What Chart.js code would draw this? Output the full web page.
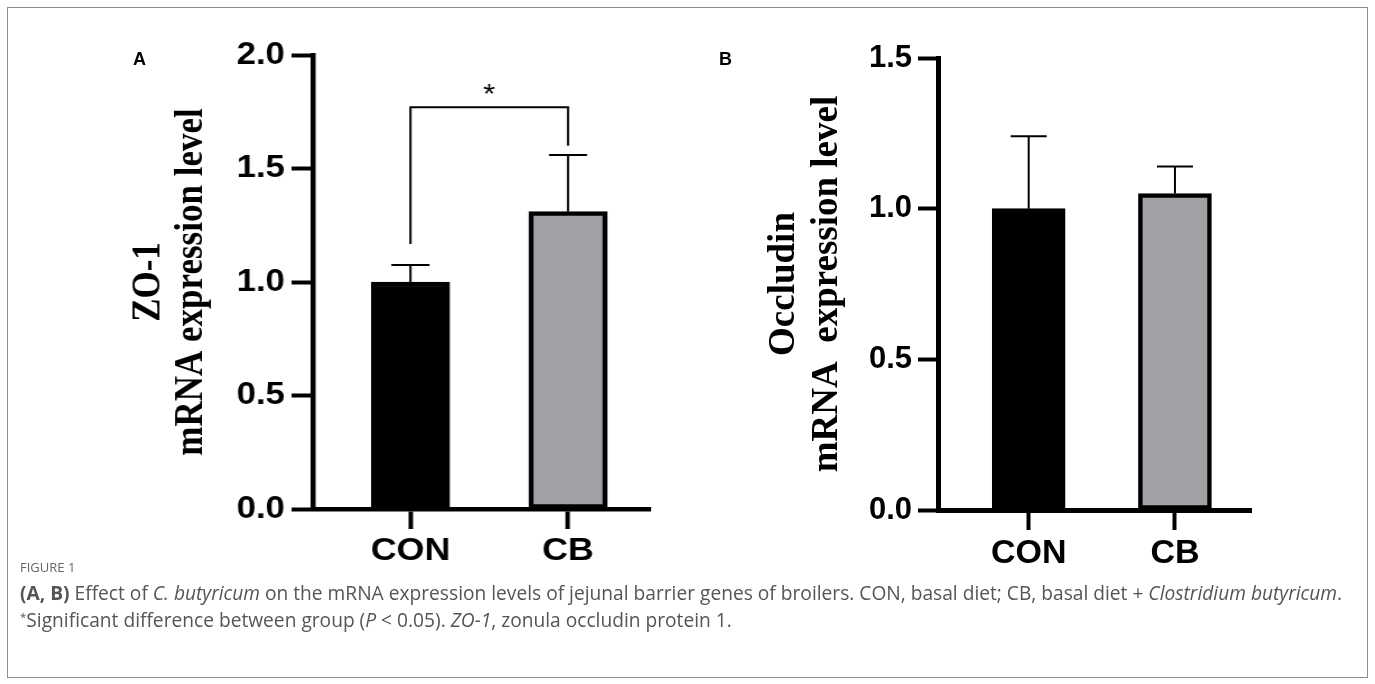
<!DOCTYPE html>
<html>
<head>
<meta charset="utf-8">
<script src="https://cdn.jsdelivr.net/npm/chart.js@4/dist/chart.umd.min.js"></script>
<style>
  html, body { margin:0; padding:0; background:#fff; }
  body { width:1375px; height:684px; position:relative; overflow:hidden; }
  #frame { position:absolute; left:7px; top:7px; width:1361px; height:671px; border:1.5px solid #8c8c8c; box-sizing:border-box; }
  .panel { position:absolute; top:0; }
  #wrapA { left:100px; width:500px; height:590px; transform:scaleX(1.12); transform-origin:0 0; }
  #wrapB { left:700px; width:560px; height:590px; }
  .letter { position:absolute; font-family:"Liberation Sans", Arial, sans-serif; font-weight:bold; font-size:18px; color:#000; line-height:1; }
  #caption { position:absolute; left:20px; top:555px; font-family:"Open Sans", "Noto Sans", sans-serif; color:#555; }
  #figlabel { font-size:13px; color:#666; line-height:24px; letter-spacing:0; }
  .capline { white-space:nowrap; line-height:27px; height:27px; font-size:15.5px; }
  .capline sup { font-size:0.6em; line-height:0; vertical-align:0.55em; }
  #cap1 { display:inline-block; }
</style>
</head>
<body>
<div id="frame"></div>
<div class="panel" id="wrapA"><canvas id="chartA" width="500" height="590"></canvas></div>
<div class="panel" id="wrapB"><canvas id="chartB" width="560" height="590"></canvas></div>
<div class="letter" style="left:133px;top:50px;">A</div>
<div class="letter" style="left:719px;top:50px;">B</div>
<div id="caption">
  <div id="figlabel">FIGURE 1</div>
  <div class="capline"><span id="cap1"><b>(A, B)</b> Effect of <i>C. butyricum</i> on the mRNA expression levels of jejunal barrier genes of broilers. CON, basal diet; CB, basal diet + <i>Clostridium butyricum</i>.</span></div>
  <div class="capline"><sup>*</sup>Significant difference between group (<i>P</i> &lt; 0.05). <i>ZO-1</i>, zonula occludin protein 1.</div>
</div>
<script>
// ---- data ----
const categories = ['CON', 'CB'];
const zo1Means = [1.00, 1.31];
const zo1Err = [0.075, 0.25];
const occMeans = [1.00, 1.05];
const occErr = [0.24, 0.09];
const zo1Ticks = [0, 0.5, 1.0, 1.5, 2.0];
const occTicks = [0, 0.5, 1.0, 1.5];
const barColors = ['#000000', '#a1a1a5'];
const zo1Title = ['ZO-1', 'mRNA expression level'];
const occTitle = ['Occludin', 'mRNA  expression level'];
// significance bracket (ZO-1): bracket level, left leg end, right leg end, star level
const sigBracket = [1.77, 1.167, 1.60];
const sigStarY = 1.85;
const sigLabel = '*';

const errorBarPlugin = {
  id: 'errorBars',
  afterDatasetsDraw(chart, args, opts) {
    const ctx = chart.ctx, xs = chart.scales.x, ys = chart.scales.y;
    const means = opts.means, errs = opts.errs;
    ctx.save();
    ctx.strokeStyle = '#000';
    ctx.lineWidth = opts.lineWidth;
    means.forEach((m, i) => {
      const x = xs.getPixelForValue(i);
      const y0 = ys.getPixelForValue(m);
      const y1 = ys.getPixelForValue(m + errs[i]);
      ctx.beginPath();
      ctx.moveTo(x, y0); ctx.lineTo(x, y1);
      ctx.moveTo(x - opts.cap, y1); ctx.lineTo(x + opts.cap, y1);
      ctx.stroke();
    });
    if (opts.bracket) {
      const b = opts.bracket;
      const xl = xs.getPixelForValue(0), xr = xs.getPixelForValue(1);
      const yb = ys.getPixelForValue(b[0]);
      ctx.beginPath();
      ctx.moveTo(xl, ys.getPixelForValue(b[1]));
      ctx.lineTo(xl, yb); ctx.lineTo(xr, yb);
      ctx.lineTo(xr, ys.getPixelForValue(b[2]));
      ctx.stroke();
      ctx.fillStyle = '#000';
      ctx.font = '28px "Liberation Sans", Arial, sans-serif';
      ctx.textAlign = 'center';
      ctx.textBaseline = 'middle';
      ctx.fillText(opts.star, xs.getPixelForValue(0.5), ys.getPixelForValue(opts.starY) + 6);
    }
    ctx.restore();
  }
};

function makeChart(id, cfg) {
  const data = cfg.means.map((v, i) => ({ x: i, y: v }));
  return new Chart(document.getElementById(id), {
    type: 'bar',
    data: {
      datasets: [{
        data: data,
        backgroundColor: barColors,
        borderColor: '#000',
        borderWidth: 4.5,
        borderSkipped: false,
        barThickness: cfg.barW
      }]
    },
    options: {
      responsive: false,
      animation: false,
      events: [],
      layout: { padding: { left: 0, right: 9, top: cfg.top, bottom: 0 } },
      plugins: {
        legend: { display: false },
        tooltip: { enabled: false },
        errorBars: { means: cfg.means, errs: cfg.errs, cap: cfg.cap, lineWidth: 2, bracket: cfg.bracket, star: sigLabel, starY: sigStarY }
      },
      scales: {
        x: {
          type: 'linear',
          min: -0.62, max: 1.52,
          offset: false,
          afterBuildTicks: (s) => { s.ticks = categories.map((c, i) => ({ value: i })); },
          afterFit: (s) => { s.height = cfg.xH; },
          ticks: {
            autoSkip: false,
            maxRotation: 0,
            padding: 3,
            color: '#000',
            font: { family: '"Liberation Sans", Arial, sans-serif', weight: 'bold', size: cfg.xFont },
            callback: (v) => categories[v] !== undefined ? categories[v] : ''
          },
          grid: { display: true, offset: false, drawOnChartArea: false, drawTicks: true, tickLength: 20, tickWidth: 4, tickColor: '#000' },
          border: { display: true, color: '#000', width: cfg.axisW }
        },
        y: {
          min: 0, max: cfg.max,
          afterBuildTicks: (s) => { s.ticks = cfg.ticks.map(v => ({ value: v })); },
          afterFit: (s) => { s.width = cfg.yW; },
          ticks: {
            padding: 6,
            color: '#000',
            font: { family: '"Liberation Sans", Arial, sans-serif', weight: 'bold', size: 31 },
            callback: (v) => Number(v).toFixed(1)
          },
          grid: { display: true, drawOnChartArea: false, drawTicks: true, tickLength: cfg.tickL, tickWidth: 4, tickColor: '#000' },
          border: { display: true, color: '#000', width: cfg.axisW },
          title: {
            display: true,
            text: cfg.title,
            color: '#000',
            padding: { top: cfg.titlePad, bottom: 0 },
            font: { family: '"Liberation Serif", "Times New Roman", serif', weight: 'bold', size: cfg.titleSize, lineHeight: cfg.titleLH }
          }
        }
      }
    },
    plugins: [errorBarPlugin]
  });
}

makeChart('chartA', {
  means: zo1Means, errs: zo1Err, ticks: zo1Ticks, max: 2.0, title: zo1Title,
  barW: 70, top: 55, xH: 81, yW: 190, xFont: 32, cap: 17, axisW: 4.5, tickL: 19,
  titlePad: 24.5, titleSize: 35, titleLH: 1.1, bracket: sigBracket
});
makeChart('chartB', {
  means: occMeans, errs: occErr, ticks: occTicks, max: 1.5, title: occTitle,
  barW: 73, top: 58, xH: 80, yW: 238, xFont: 34, cap: 18, axisW: 5, tickL: 20,
  titlePad: 63, titleSize: 37, titleLH: 1.162, bracket: null
});

// fit caption width to the reference line length
const cap1 = document.getElementById('cap1');
const w = cap1.getBoundingClientRect().width;
const fs = 15.5 * 1323 / w;
document.querySelectorAll('.capline').forEach(el => el.style.fontSize = fs.toFixed(2) + 'px');
</script>
</body>
</html>
